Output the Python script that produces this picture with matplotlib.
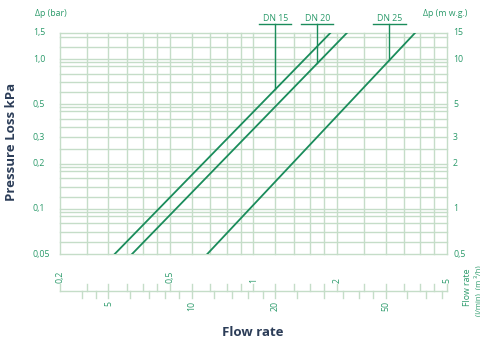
"""Pressure loss vs flow rate chart for DN15 / DN20 / DN25."""
import matplotlib.pyplot as plt
import matplotlib.transforms as mtransforms
import numpy as np

plt.rcParams["font.family"] = ["Open Sans", "DejaVu Sans"]

C_LINE = "#1a8c5b"
C_GRID = "#c5ddc8"
C_TEXT = "#2a9a6a"
C_NAVY = "#2c3d58"

# curves: flow (m3/h) vs pressure loss (bar)
dn_names = ["DN 15", "DN 20", "DN 25"]
dn15_q = [0.316, 1.90]
dn15_dp = [0.05, 1.5]
dn20_q = [0.365, 2.18]
dn20_dp = [0.05, 1.5]
dn25_q = [0.682, 3.84]
dn25_dp = [0.05, 1.5]
marker_q = [1.2, 1.7, 3.1]

# left / right pressure scales
dp_ticks = [0.05, 0.1, 0.2, 0.3, 0.5, 1.0, 1.5]
dp_labels_bar = ["0,05", "0,1", "0,2", "0,3", "0,5", "1,0", "1,5"]
dp_labels_mwg = ["0,5", "1", "2", "3", "5", "10", "15"]

# bottom flow scales
q_ticks = [0.2, 0.5, 1, 2, 5]
q_labels = ["0,2", "0,5", "1", "2", "5"]
q_minor = [0.2, 0.25, 0.3, 0.35, 0.4, 0.45, 0.5, 0.6, 0.7, 0.8, 0.9, 1.0,
           1.2, 1.4, 1.6, 1.8, 2.0, 2.5, 3, 3.5, 4, 4.5, 5]
lmin_ticks = [5, 10, 20, 50]
lmin_labels = ["5", "10", "20", "50"]
lmin_minor = [4, 4.5, 5, 6, 7, 8, 9, 10, 12, 14, 16, 18, 20, 24, 30, 35,
              40, 45, 50, 60, 70, 80]

grid_q = q_minor
grid_dp = [0.05, 0.06, 0.07, 0.08, 0.09, 0.095, 0.1, 0.12, 0.14, 0.16, 0.18,
           0.19, 0.2, 0.25, 0.3, 0.35, 0.4, 0.45, 0.48, 0.5, 0.6, 0.7, 0.8,
           0.9, 0.95, 1.0, 1.2, 1.4, 1.5]

W, H = 481, 342
fig = plt.figure(figsize=(W / 100, H / 100), dpi=100)
ax = fig.add_axes([59.7 / W, 1 - 254 / H, 387.3 / W, 221.3 / H])
ax.set_xscale("log")
ax.set_yscale("log")
ax.set_axis_off()

for v in grid_q:
    ax.axvline(v, color=C_GRID, lw=1.0, zorder=1, clip_on=False)
for v in grid_dp:
    ax.axhline(v, color=C_GRID, lw=1.0, zorder=1, clip_on=False)

curves = [(dn15_q, dn15_dp), (dn20_q, dn20_dp), (dn25_q, dn25_dp)]
for q, dp in curves:
    ax.plot(q, dp, color=C_LINE, lw=1.3, zorder=3)

# DN markers above the plot
y_bar = 1.5 * 10 ** ((32.7 - 24) / 149.8)
y_lab = 1.5 * 10 ** ((32.7 - 21.5) / 149.8)
for name, mq, (q, dp) in zip(dn_names, marker_q, curves):
    yc = 10 ** np.interp(np.log10(mq), np.log10(q), np.log10(dp))
    ax.plot([mq, mq], [yc, y_bar], color=C_LINE, lw=1.0, zorder=3, clip_on=False)
    ax.plot([mq / 1.143, mq * 1.143], [y_bar, y_bar], color=C_LINE, lw=1.0,
            zorder=3, clip_on=False)
    ax.text(mq, y_lab, name, ha="center", va="baseline", fontsize=6.3, color=C_TEXT)

# pressure labels
tr = mtransforms.blended_transform_factory(ax.transAxes, ax.transData)
for v, lb, lm in zip(dp_ticks, dp_labels_bar, dp_labels_mwg):
    ax.text(-0.069, v, lb, transform=tr, ha="left", va="center", fontsize=6.3, color=C_TEXT)
    ax.text(1.0155, v, lm, transform=tr, ha="left", va="center", fontsize=6.3, color=C_TEXT)

fig.text(35 / W, 1 - 13 / H, "Δp (bar)", ha="left", va="center", fontsize=6.3, color=C_TEXT)
fig.text(467 / W, 1 - 13 / H, "Δp (m w.g.)", ha="right", va="center", fontsize=6.3, color=C_TEXT)

# bottom double flow scale
tb = mtransforms.blended_transform_factory(ax.transData, fig.transFigure)
y_line = 1 - 291 / H
y_up = 1 - 284 / H
y_dn = 1 - 298 / H
ax.plot([0.2, 5], [y_line, y_line], transform=tb, color=C_GRID, lw=1.0, clip_on=False)
for v in q_minor:
    ax.plot([v, v], [y_line, y_up], transform=tb, color=C_GRID, lw=1.0, clip_on=False)
for v in lmin_minor:
    q = v * 0.06
    ax.plot([q, q], [y_line, y_dn], transform=tb, color=C_GRID, lw=1.0, clip_on=False)
for v, lb in zip(q_ticks, q_labels):
    ax.text(v, 1 - 283 / H, lb, transform=tb, rotation=90, ha="center", va="bottom",
            fontsize=6.3, color=C_TEXT)
for v, lb in zip(lmin_ticks, lmin_labels):
    ax.text(v * 0.06, 1 - 301 / H, lb, transform=tb, rotation=90, ha="center", va="top",
            fontsize=6.3, color=C_TEXT)

fig.text(468 / W, 1 - 287 / H, "Flow rate", rotation=90, ha="center", va="center",
         fontsize=6.3, color=C_TEXT)
fig.text(478 / W, 1 - 291 / H, "(l/min)  (m ³/h)", rotation=90, ha="center", va="center",
         fontsize=5.5, color=C_TEXT)

fig.text(12 / W, 1 - 142 / H, "Pressure Loss kPa", rotation=90, ha="center", va="center",
         fontsize=9.5, fontweight="bold", color=C_NAVY)
fig.text(253 / W, 1 - 332 / H, "Flow rate", ha="center", va="center",
         fontsize=9.5, fontweight="bold", color=C_NAVY)

ax.set_xlim(0.2, 5)
ax.set_ylim(0.05, 1.5)
fig.savefig("out.png", dpi=100)
